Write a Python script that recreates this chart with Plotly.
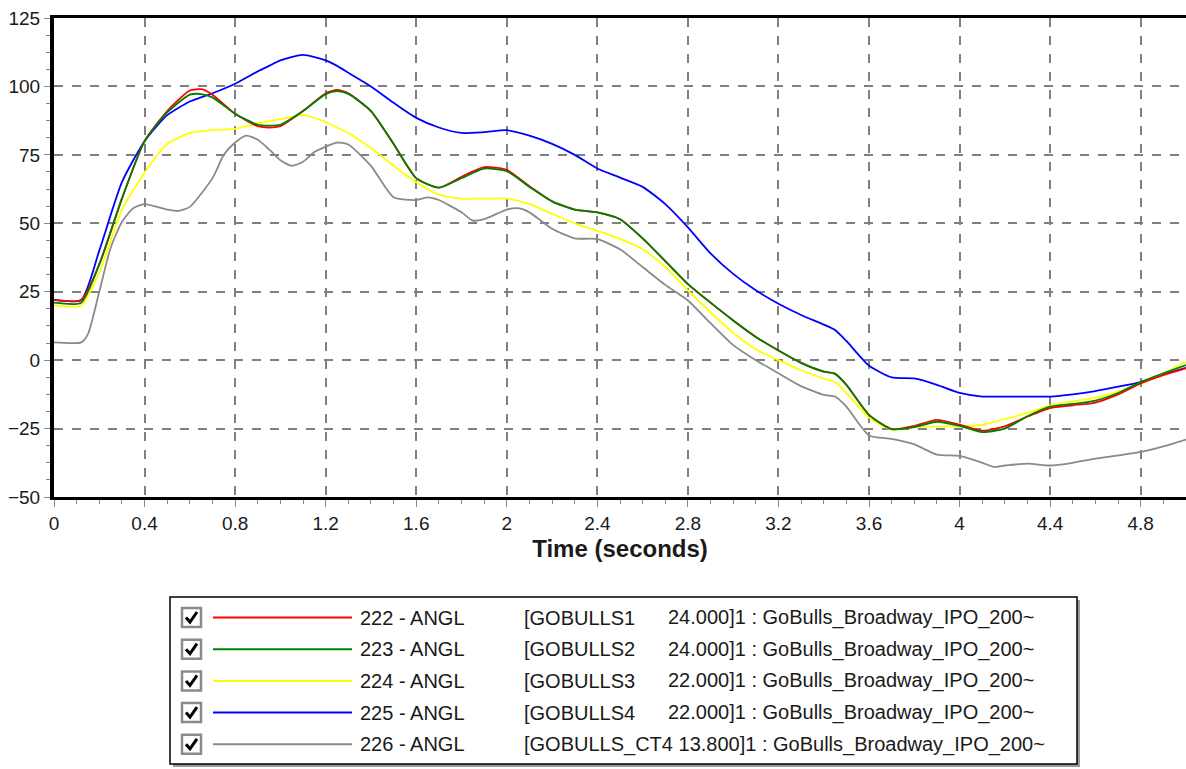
import plotly.graph_objects as go

# ---------------- data ----------------
t_main = [0, 0.12, 0.2, 0.3, 0.4, 0.5, 0.6, 0.65, 0.7, 0.8, 0.9, 0.95, 1.0, 1.1, 1.2, 1.25, 1.3,
          1.4, 1.5, 1.6, 1.7, 1.8, 1.9, 2.0, 2.1, 2.2, 2.3, 2.4, 2.5, 2.6, 2.7, 2.8, 2.9, 3.0,
          3.1, 3.2, 3.3, 3.4, 3.45, 3.5, 3.6, 3.7, 3.8, 3.9, 4.0, 4.1, 4.2, 4.3, 4.4, 4.5, 4.6,
          4.7, 4.8, 4.9, 5.0]

angl_222 = [22, 22, 35, 59, 80, 91, 98.5, 99, 97, 90, 85.5, 85, 85.5, 91, 97.5, 98.7, 97.5,
            91, 79, 66.5, 63, 67, 70.5, 69.5, 63.5, 58, 55, 54, 51.5, 44.5, 36.2, 27.8, 21, 14.5,
            8.5, 3.5, -1, -4.2, -5, -9, -20, -25.2, -24, -21.8, -23.6, -25.8, -24.2, -20.6, -17.5,
            -16.5, -15.5, -12.5, -8.5, -5.5, -3]

angl_223 = [21, 21, 35, 59, 80, 90.5, 97, 97.2, 96, 90, 86, 85.7, 86, 91, 97.2, 98.3, 97.3,
            91, 79, 66.5, 63, 66.5, 70, 69, 63.3, 58, 55, 54, 51.5, 44.5, 36.2, 27.8, 21, 14.5,
            8.5, 3.5, -1, -4.2, -5, -9, -20, -25.2, -24.5, -22.5, -24, -26.3, -25, -20.5, -17,
            -16, -14.8, -12, -8, -4.8, -1.8]

angl_224 = [20, 20, 32, 55, 68.5, 79, 83, 83.7, 84, 84.5, 86.5, 87.3, 88, 89.5, 87, 85, 83,
            77.5, 71, 65, 60.5, 59, 59, 59, 57, 53.5, 50, 47.3, 44.3, 40.5, 34, 25.5, 17.5, 10,
            4, 0, -3.7, -6.7, -8, -12, -21, -25.4, -24.5, -24.2, -24.2, -23.6, -21.5, -19.3, -16.5,
            -15, -13.8, -11.5, -8.5, -4.8, -0.6]

angl_225 = [22, 22, 40, 65, 80, 89.5, 94.5, 96, 97.5, 101, 105.5, 107.5, 109.5, 111.5, 109.5, 107.5, 105,
            100, 94, 88.5, 85, 83, 83.3, 84, 82, 79, 75, 70, 66.7, 63.3, 57, 48.5, 39, 31.5,
            25.5, 20.6, 16.5, 13, 11, 7, -2, -6.3, -6.7, -9, -12, -13.3, -13.3, -13.3, -13.3,
            -12.5, -11.3, -9.7, -8, -5.2, -2.8]

t_226 = [0, 0.12, 0.15, 0.2, 0.25, 0.3, 0.35, 0.4, 0.5, 0.55, 0.6, 0.7, 0.75, 0.8, 0.85, 0.9,
         0.95, 1.0, 1.05, 1.1, 1.15, 1.2, 1.25, 1.3, 1.4, 1.5, 1.6, 1.65, 1.7, 1.8, 1.85, 1.9,
         2.0, 2.05, 2.1, 2.2, 2.3, 2.4, 2.5, 2.6, 2.7, 2.8, 2.9, 3.0, 3.1, 3.2, 3.3, 3.4, 3.45,
         3.5, 3.6, 3.7, 3.8, 3.9, 4.0, 4.1, 4.15, 4.2, 4.3, 4.4, 4.5, 4.6, 4.7, 4.8, 4.9, 5.0]
angl_226 = [6.5, 6.5, 9.5, 25, 41, 50.5, 55.5, 57, 55, 54.5, 56, 66.5, 75, 79.5, 82, 80.5,
            77, 73, 71, 72.5, 76, 78, 79.5, 78.8, 71, 59.5, 58.5, 59.5, 58.5, 54, 51, 51.5,
            55, 55.5, 54, 48, 44.5, 44.2, 40.5, 34, 27.5, 21.8, 13.5, 5.5, 0, -4.8, -9.5, -12.7, -13.3,
            -17, -27.5, -28.8, -30.8, -34.5, -35, -37.5, -39, -38.5, -37.8, -38.5, -37.5, -36, -34.8, -33.5, -31.5, -29]

series_ids = ["222 - ANGL", "223 - ANGL", "224 - ANGL", "225 - ANGL", "226 - ANGL"]
series_desc = ["[GOBULLS1", "[GOBULLS2", "[GOBULLS3", "[GOBULLS4", "[GOBULLS_CT4 13.800]1 : GoBulls_Broadway_IPO_200~"]
series_kv = ["24.000]1 : GoBulls_Broadway_IPO_200~", "24.000]1 : GoBulls_Broadway_IPO_200~",
             "22.000]1 : GoBulls_Broadway_IPO_200~", "22.000]1 : GoBulls_Broadway_IPO_200~", ""]
series_colors = ["#ff0000", "#008000", "#ffff00", "#0000ff", "#8a8a8a"]

x_ticks = [0, 0.4, 0.8, 1.2, 1.6, 2, 2.4, 2.8, 3.2, 3.6, 4, 4.4, 4.8]
y_ticks = [-50, -25, 0, 25, 50, 75, 100, 125]

# ---------------- figure ----------------
W, H = 1186, 769
ML, MR, MT, MB = 54, 0, 18, 272
PW, PH = W - ML - MR, H - MT - MB

def px(x):
    return (x - ML) / PW

def py(y):
    return (H - MB - y) / PH

fig = go.Figure()
data_map = [
    (t_226, angl_226, 4),
    (t_main, angl_225, 3),
    (t_main, angl_224, 2),
    (t_main, angl_222, 0),
    (t_main, angl_223, 1),
]
for tx, vals, i in data_map:
    fig.add_trace(go.Scatter(x=tx, y=vals, mode="lines", name=series_ids[i],
                             line=dict(color=series_colors[i], width=1.8, shape="spline", smoothing=0.6),
                             showlegend=False))

font_family = "Liberation Sans, Arial, sans-serif"
TICK_FS = 19
fig.update_layout(
    width=W, height=H,
    margin=dict(l=ML, r=MR, t=MT, b=MB, pad=0),
    paper_bgcolor="white", plot_bgcolor="white",
    font=dict(family=font_family, size=TICK_FS, color="#1a1a1a"),
    xaxis=dict(range=[0, 5.0], tickvals=x_ticks, ticktext=[str(v) for v in x_ticks],
               ticks="outside", ticklen=7, tickcolor="#888888", tickwidth=1,
               showline=True, linecolor="black", linewidth=3, mirror=True,
               showgrid=True, gridcolor="#808080", gridwidth=1.5, griddash="dash",
               zeroline=False,
               minor=dict(dtick=0.1, tick0=0, ticks="outside", ticklen=4, tickcolor="#888888", showgrid=False),
               title=dict(text="<b>Time (seconds)</b>", font=dict(size=24, color="#1a1a1a"), standoff=8),
               tickfont=dict(size=TICK_FS, color="#1a1a1a")),
    yaxis=dict(range=[-50, 125], tickvals=y_ticks, ticks="outside", ticklen=6, tickcolor="#888888",
               showline=True, linecolor="black", linewidth=4,
               showgrid=True, gridcolor="#808080", gridwidth=1.5, griddash="dash",
               zeroline=False,
               minor=dict(dtick=6.25, tick0=-50, ticks="outside", ticklen=4, tickcolor="#888888", showgrid=False),
               tickfont=dict(size=TICK_FS, color="#1a1a1a")),
)

# ---------------- custom legend box ----------------
bx0, by0, bx1, by1 = 170, 597, 1077, 764
LEG_FS = 20
shapes = []
shapes.append(dict(type="rect", xref="paper", yref="paper", x0=px(bx0 + 3), x1=px(bx1 + 3),
                   y0=py(by1 + 3), y1=py(by0 + 3), line=dict(width=0), fillcolor="#9a9a9a", layer="above"))
shapes.append(dict(type="rect", xref="paper", yref="paper", x0=px(bx0), x1=px(bx1),
                   y0=py(by1), y1=py(by0), line=dict(color="black", width=1.5), fillcolor="white", layer="above"))
annotations = []
row0, dy = 617.5, 31.7
for i in range(5):
    yc = row0 + i * dy
    # checkbox
    shapes.append(dict(type="rect", xref="paper", yref="paper", x0=px(182), x1=px(201),
                       y0=py(yc + 9.5), y1=py(yc - 9.5), line=dict(color="#8a8a8a", width=2.5),
                       fillcolor="white", layer="above"))
    shapes.append(dict(type="path", xref="paper", yref="paper",
                       path=f"M {px(186)} {py(yc)} L {px(190)} {py(yc + 4.5)} L {px(197)} {py(yc - 5.5)}",
                       line=dict(color="black", width=3), layer="above"))
    # line sample
    shapes.append(dict(type="line", xref="paper", yref="paper", x0=px(213), x1=px(352),
                       y0=py(yc), y1=py(yc), line=dict(color=series_colors[i], width=2), layer="above"))
    annotations.append(dict(xref="paper", yref="paper", x=px(358), y=py(yc), text=series_ids[i],
                            showarrow=False, xanchor="left", yanchor="middle",
                            font=dict(size=LEG_FS, color="#1a1a1a")))
    annotations.append(dict(xref="paper", yref="paper", x=px(522), y=py(yc), text=series_desc[i],
                            showarrow=False, xanchor="left", yanchor="middle",
                            font=dict(size=LEG_FS, color="#1a1a1a")))
    if series_kv[i]:
        annotations.append(dict(xref="paper", yref="paper", x=px(666), y=py(yc), text=series_kv[i],
                                showarrow=False, xanchor="left", yanchor="middle",
                                font=dict(size=LEG_FS, color="#1a1a1a")))

fig.update_layout(shapes=shapes, annotations=annotations)
fig.write_html("out.html", config={"displayModeBar": False},
               post_script="document.body.style.margin='0';document.body.style.overflow='hidden';")
